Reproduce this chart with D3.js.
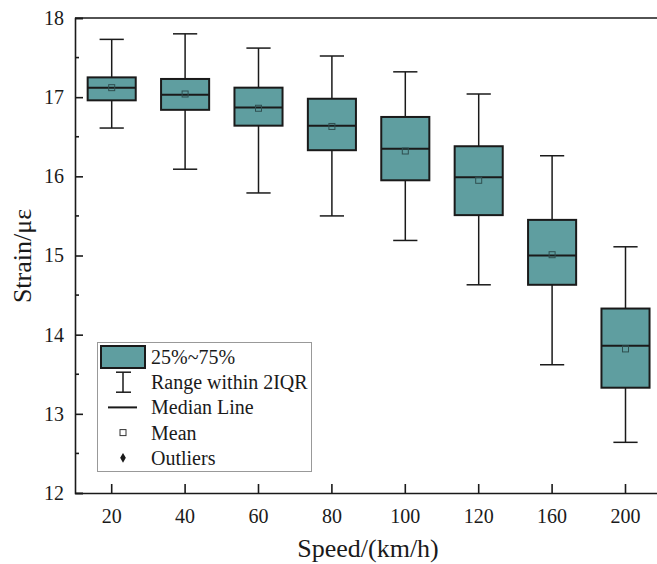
<!DOCTYPE html>
<html>
<head>
<meta charset="utf-8">
<script src="https://cdn.jsdelivr.net/npm/d3@7"></script>
<style>
  body { margin: 0; background: #ffffff; }
  svg { display: block; }
  svg text { font-family: "Liberation Serif", "Times New Roman", serif; }
</style>
</head>
<body>
<div id="chart"></div>
<script>
// values
var speeds = ["20", "40", "60", "80", "100", "120", "160", "200"];
var whiskerHigh = [17.73, 17.80, 17.62, 17.52, 17.32, 17.04, 16.26, 15.11];
var q3 = [17.25, 17.23, 17.12, 16.98, 16.75, 16.38, 15.45, 14.33];
var medians = [17.12, 17.03, 16.87, 16.64, 16.35, 15.99, 15.00, 13.86];
var means = [17.12, 17.04, 16.86, 16.63, 16.32, 15.95, 15.01, 13.82];
var q1 = [16.96, 16.84, 16.64, 16.33, 15.95, 15.51, 14.63, 13.33];
var whiskerLow = [16.61, 16.09, 15.79, 15.50, 15.19, 14.63, 13.62, 12.64];
var yTicks = [12, 13, 14, 15, 16, 17, 18];
var yMinorTicks = [12.5, 13.5, 14.5, 15.5, 16.5, 17.5];
var legendLabels = ["25%~75%", "Range within 2IQR", "Median Line", "Mean", "Outliers"];

var width = 657,
    height = 564,
    boxFill = "#5f9ea0",
    font = "'Liberation Serif', 'Times New Roman', serif";

var boxes = speeds.map(function(s, i) {
  return {speed: s, hi: whiskerHigh[i], q3: q3[i], med: medians[i], mean: means[i], q1: q1[i], lo: whiskerLow[i]};
});

var svg = d3.select("#chart")
  .append("svg")
  .attr("width", width)
  .attr("height", height);

var x = d3.scaleBand()
  .domain(speeds)
  .range([75, 75 + 8 * 73.4]);

var y = d3.scaleLinear()
  .domain([12, 18])
  .range([493, 18]);

var boxW = x.bandwidth() * 0.655,
    capW = x.bandwidth() * 0.33;

// frame top line (right side runs off the picture)
svg.append("line")
  .attr("x1", x.range()[0]).attr("x2", x.range()[1])
  .attr("y1", y(18)).attr("y2", y(18))
  .attr("stroke", "#1a1a1a").attr("stroke-width", 1.6);
svg.append("line")
  .attr("x1", x.range()[1]).attr("x2", x.range()[1])
  .attr("y1", y(18)).attr("y2", y(12))
  .attr("stroke", "#1a1a1a").attr("stroke-width", 1.6);

// y axis, ticks pointing inward
var yAxis = svg.append("g")
  .attr("transform", "translate(" + x.range()[0] + ",0)")
  .call(d3.axisRight(y).tickValues(yTicks).tickSize(8).tickFormat(d3.format("d")));
yAxis.attr("font-family", null);
yAxis.select(".domain").attr("stroke", "#1a1a1a").attr("stroke-width", 1.6);
yAxis.selectAll(".tick line").attr("stroke", "#1a1a1a").attr("stroke-width", 1.6);
yAxis.selectAll(".tick text")
  .attr("x", -11)
  .attr("text-anchor", "end")
  .style("font-family", font)
  .style("font-size", "20px")
  .attr("fill", "#1a1a1a");

yAxis.selectAll(".minor")
  .data(yMinorTicks)
  .enter().append("line")
  .attr("class", "minor")
  .attr("x1", 0).attr("x2", 4)
  .attr("y1", function(d) { return y(d); })
  .attr("y2", function(d) { return y(d); })
  .attr("stroke", "#1a1a1a").attr("stroke-width", 1.6);

// x axis, ticks pointing up
var xAxis = svg.append("g")
  .attr("transform", "translate(0," + y(12) + ")")
  .call(d3.axisTop(x).tickSize(9).tickSizeOuter(0));
xAxis.attr("font-family", null);
xAxis.select(".domain").attr("stroke", "#1a1a1a").attr("stroke-width", 1.6);
xAxis.selectAll(".tick line").attr("stroke", "#1a1a1a").attr("stroke-width", 1.6);
xAxis.selectAll(".tick text")
  .attr("y", 30)
  .attr("dy", 0)
  .style("font-family", font)
  .style("font-size", "20px")
  .attr("fill", "#1a1a1a");

// axis titles
svg.append("text").text("Speed/(km/h)")
  .attr("x", 368)
  .attr("y", 557)
  .attr("text-anchor", "middle")
  .style("font-family", font)
  .style("font-size", "26px")
  .style("fill", "#1a1a1a");

svg.append("text").text("Strain/με")
  .attr("transform", "translate(31,256) rotate(-90)")
  .attr("text-anchor", "middle")
  .style("font-family", font)
  .style("font-size", "26px")
  .style("fill", "#1a1a1a");

// boxes
var box = svg.append("g")
  .attr("class", "boxes")
  .selectAll("g")
  .data(boxes)
  .enter().append("g")
  .attr("transform", function(d) { return "translate(" + (x(d.speed) + x.bandwidth() / 2) + ",0)"; });

box.append("line")
  .attr("x1", 0).attr("x2", 0)
  .attr("y1", function(d) { return y(d.hi); })
  .attr("y2", function(d) { return y(d.lo); })
  .attr("stroke", "#1a1a1a").attr("stroke-width", 1.5);

box.append("line")
  .attr("x1", -capW / 2).attr("x2", capW / 2)
  .attr("y1", function(d) { return y(d.hi); })
  .attr("y2", function(d) { return y(d.hi); })
  .attr("stroke", "#1a1a1a").attr("stroke-width", 1.5);

box.append("line")
  .attr("x1", -capW / 2).attr("x2", capW / 2)
  .attr("y1", function(d) { return y(d.lo); })
  .attr("y2", function(d) { return y(d.lo); })
  .attr("stroke", "#1a1a1a").attr("stroke-width", 1.5);

box.append("rect")
  .attr("x", -boxW / 2)
  .attr("width", boxW)
  .attr("y", function(d) { return y(d.q3); })
  .attr("height", function(d) { return y(d.q1) - y(d.q3); })
  .attr("fill", boxFill)
  .attr("stroke", "#1a1a1a")
  .attr("stroke-width", 2);

box.append("line")
  .attr("x1", -boxW / 2).attr("x2", boxW / 2)
  .attr("y1", function(d) { return y(d.med); })
  .attr("y2", function(d) { return y(d.med); })
  .attr("stroke", "#1a1a1a").attr("stroke-width", 2);

box.append("rect")
  .attr("x", -3)
  .attr("width", 6)
  .attr("y", function(d) { return y(d.mean) - 3; })
  .attr("height", 6)
  .attr("fill", "none")
  .attr("stroke", "#2f4f50")
  .attr("stroke-width", 1);

// legend
var legend = svg.append("g")
  .attr("class", "legend");

legend.append("rect")
  .attr("x", 97.5).attr("y", 342.5)
  .attr("width", 214).attr("height", 129)
  .attr("fill", "white")
  .attr("stroke", "#999999")
  .attr("stroke-width", 1);

var rowY = function(i) { return 357 + i * 25.2; };

legend.append("rect")
  .attr("x", 101).attr("y", rowY(0) - 11)
  .attr("width", 44).attr("height", 22)
  .attr("fill", boxFill)
  .attr("stroke", "#1a1a1a")
  .attr("stroke-width", 2);

legend.append("line")
  .attr("x1", 123).attr("x2", 123)
  .attr("y1", rowY(1) - 10).attr("y2", rowY(1) + 10)
  .attr("stroke", "#1a1a1a").attr("stroke-width", 1.5);
legend.selectAll(".cap")
  .data([-10, 10])
  .enter().append("line")
  .attr("class", "cap")
  .attr("x1", 116).attr("x2", 131)
  .attr("y1", function(d) { return rowY(1) + d; })
  .attr("y2", function(d) { return rowY(1) + d; })
  .attr("stroke", "#1a1a1a").attr("stroke-width", 1.5);

legend.append("line")
  .attr("x1", 108).attr("x2", 137)
  .attr("y1", rowY(2)).attr("y2", rowY(2))
  .attr("stroke", "#1a1a1a").attr("stroke-width", 2);

legend.append("rect")
  .attr("x", 120).attr("y", rowY(3) - 3)
  .attr("width", 6).attr("height", 6)
  .attr("fill", "none")
  .attr("stroke", "#333333")
  .attr("stroke-width", 1);

legend.append("path")
  .attr("d", d3.symbol().type(d3.symbolDiamond).size(28))
  .attr("transform", "translate(123," + rowY(4) + ")")
  .attr("fill", "#1a1a1a");

legend.selectAll(".label")
  .data(legendLabels)
  .enter().append("text")
  .attr("class", "label")
  .attr("x", 151)
  .attr("y", function(d, i) { return rowY(i) + 7; })
  .style("font-family", font)
  .style("font-size", "20px")
  .attr("fill", "#1a1a1a")
  .text(function(d) { return d; });
</script>
</body>
</html>
